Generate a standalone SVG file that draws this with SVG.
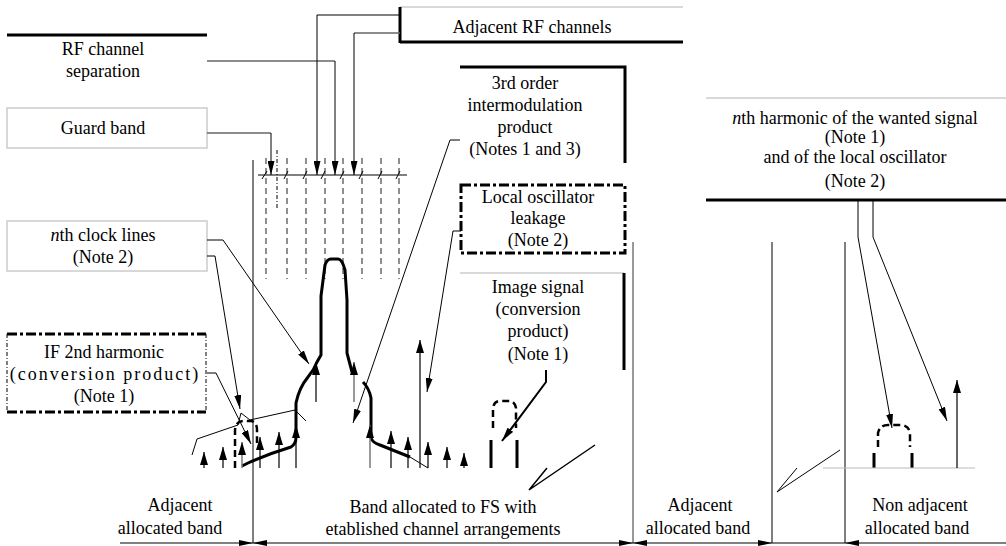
<svg xmlns="http://www.w3.org/2000/svg" width="1006" height="546" viewBox="0 0 1006 546">
<defs>
<marker id="ah" markerWidth="14" markerHeight="7" refX="14" refY="3.5" orient="auto" markerUnits="userSpaceOnUse"><path d="M0,0 L14,3.5 L0,7 z" fill="#000"/></marker>
<marker id="up" markerWidth="13" markerHeight="8" refX="13" refY="4" orient="auto" markerUnits="userSpaceOnUse"><path d="M0,0 L13,4 L0,8 z" fill="#000"/></marker>
</defs>
<style>
text{font-family:"Liberation Serif","Times New Roman",serif;font-size:18px;fill:#000;text-anchor:middle}
.c{fill:none;stroke:#000;stroke-width:1}
.g{fill:none;stroke:#666;stroke-width:1.3}
.lb{fill:none;stroke:#ccc;stroke-width:1.5}
.tk{fill:none;stroke:#000;stroke-width:3}
.dd{fill:none;stroke:#000;stroke-width:3;stroke-dasharray:10 3 3 3}
.dt{fill:none;stroke:#000;stroke-width:1;stroke-dasharray:4 2 1 2}
.dash{fill:none;stroke:#555;stroke-width:1.3;stroke-dasharray:6 4}
.sp{fill:none;stroke:#000;stroke-width:3;stroke-linejoin:round}
.hump{fill:none;stroke:#000;stroke-width:2.5;stroke-dasharray:7 4}
.sa{fill:none;stroke:#000;stroke-width:1.2;marker-end:url(#up)}
.sag{fill:none;stroke:#777;stroke-width:1.5;marker-end:url(#up)}
.ca{fill:none;stroke:#000;stroke-width:1;marker-end:url(#ah)}
</style>

<g id="rf-separation">
<line class="tk" x1="7" y1="35" x2="207" y2="35"/>
<text x="103" y="55">RF channel</text>
<text x="103" y="77">separation</text>
</g>

<g id="guard-band">
<rect class="lb" x="7" y="108" width="200" height="40"/>
<text x="103" y="134">Guard band</text>
</g>

<g id="adjacent-rf">
<line class="lb" x1="400" y1="7" x2="683" y2="7"/>
<line class="tk" x1="400" y1="7" x2="400" y2="43"/>
<line class="tk" x1="400" y1="42" x2="683" y2="42"/>
<text x="532" y="33">Adjacent RF channels</text>
</g>

<g id="third-order">
<polyline class="tk" points="460,67 625,67 625,163"/>
<text x="525" y="89">3rd  order</text>
<text x="525" y="111">intermodulation</text>
<text x="525" y="133">product</text>
<text x="525" y="155">(Notes 1 and 3)</text>
</g>

<g id="lo-leakage">
<rect class="dd" x="461" y="185" width="164" height="68"/>
<text x="538" y="203">Local oscillator</text>
<text x="538" y="224">leakage</text>
<text x="538" y="246">(Note 2)</text>
</g>

<g id="image-signal">
<line class="lb" x1="460" y1="273" x2="624" y2="273"/>
<line class="tk" x1="624" y1="273" x2="624" y2="370"/>
<text x="538" y="293">Image signal</text>
<text x="538" y="315">(conversion</text>
<text x="538" y="337">product)</text>
<text x="538" y="360">(Note 1)</text>
</g>

<g id="nth-harmonic">
<line class="lb" x1="706" y1="98" x2="1006" y2="98"/>
<line class="tk" x1="706" y1="200" x2="1006" y2="200"/>
<text x="855" y="124"><tspan font-style="italic">n</tspan>th  harmonic of the wanted signal</text>
<text x="855" y="143">(Note 1)</text>
<text x="855" y="163">and of the local oscillator</text>
<text x="855" y="187">(Note 2)</text>
</g>

<g id="nth-clock">
<rect class="lb" x="7" y="221" width="200" height="50"/>
<text x="103" y="241"><tspan font-style="italic">n</tspan>th clock lines</text>
<text x="103" y="263">(Note 2)</text>
</g>

<g id="if-harmonic">
<line class="dd" x1="7" y1="334" x2="206" y2="334"/>
<line class="dd" x1="7" y1="412" x2="206" y2="412"/>
<line class="dt" x1="206" y1="334" x2="206" y2="412"/>
<line class="dt" x1="7" y1="334" x2="7" y2="412"/>
<text x="104" y="358">IF  2nd harmonic</text>
<text x="105" y="380" letter-spacing="2">(conversion product)</text>
<text x="104" y="402">(Note 1)</text>
</g>

<g id="bands">
<line class="c" x1="253" y1="160" x2="253" y2="543"/>
<line stroke="#777" stroke-width="1.5" x1="633" y1="242" x2="633" y2="543"/>
<line class="c" x1="772" y1="242" x2="772" y2="543"/>
<line class="c" x1="845" y1="242" x2="845" y2="543"/>
<line class="c" x1="120" y1="543" x2="1006" y2="543"/>
<polygon points="253,543 239,540 239,546"/>
<polygon points="253,543 267,540 267,546"/>
<polygon points="633,543 619,540 619,546"/>
<polygon points="633,543 647,540 647,546"/>
<polygon points="772,543 758,540 758,546"/>
<polygon points="845,543 859,540 859,546"/>
<text x="180" y="511">Adjacent</text>
<text x="170" y="534">allocated band</text>
<text x="443" y="513">Band allocated to FS with</text>
<text x="443" y="535">etablished channel arrangements</text>
<text x="700" y="511">Adjacent</text>
<text x="698" y="534">allocated band</text>
<text x="920" y="511">Non adjacent</text>
<text x="917" y="534">allocated band</text>
</g>

<g id="channel-grid">
<line class="c" x1="258" y1="175" x2="407" y2="175"/>
<g class="dash">
<line x1="266" y1="158" x2="266" y2="279"/>
<line x1="287" y1="158" x2="287" y2="279"/>
<line x1="306" y1="158" x2="306" y2="279"/>
<line x1="325" y1="158" x2="325" y2="279"/>
<line x1="343" y1="158" x2="343" y2="279"/>
<line x1="362" y1="158" x2="362" y2="279"/>
<line x1="381" y1="158" x2="381" y2="279"/>
<line x1="399" y1="158" x2="399" y2="279"/>
</g>
<line class="dt" x1="277" y1="150" x2="277" y2="210"/>
<g class="c">
<line x1="262" y1="179" x2="267" y2="171"/>
<line x1="284" y1="179" x2="288" y2="171"/>
<line x1="303" y1="179" x2="307" y2="171"/>
<line x1="321" y1="179" x2="325" y2="171"/>
<line x1="340" y1="179" x2="344" y2="171"/>
<line x1="359" y1="179" x2="363" y2="171"/>
<line x1="378" y1="179" x2="382" y2="171"/>
<line x1="396" y1="179" x2="400" y2="171"/>
</g>
</g>

<g id="spectrum">
<path class="sp" d="M242,466 L248,463 Q268,454 291,447 Q296,444 296,437 L296,403 Q299,388 308,377 Q314,370 317,362 L321,355 L321,296 L325,265 Q327,259 331,259 L338,259 Q342,259 345,270 L347,300 L347,353 L352,372 M363,382 Q369,388 371,398 L371,438 Q373,443 380,445 L410,457"/>
<line class="c" x1="410" y1="457" x2="428" y2="468"/>
<path class="hump" d="M235,468 L235,430 Q236,421 244,421 L251,421 Q257,422 257,430 L257,443"/>
<path class="sp" d="M491,468 L491,440 M517,440 L517,468" stroke-width="2.5"/>
<path class="hump" d="M493,428 L493,408 Q494,401 500,401 L510,401 Q515,402 516,408 L516,428"/>
<path class="sp" d="M874,468 L874,453 M912,453 L912,468" stroke-width="2.5"/>
<path class="hump" d="M878,447 L878,433 Q880,425 888,425 L902,425 Q909,426 910,433 L910,447"/>
<line stroke="#bbb" stroke-width="1.2" x1="823" y1="468" x2="975" y2="468"/>
<line class="sa" x1="204" y1="468" x2="204" y2="452"/>
<line class="sa" x1="223" y1="468" x2="223" y2="447"/>
<line class="sag" x1="242" y1="468" x2="242" y2="442"/>
<line class="sa" x1="260" y1="468" x2="260" y2="437" stroke-width="2"/>
<line class="sa" x1="279" y1="468" x2="279" y2="432"/>
<line class="sa" x1="296" y1="468" x2="296" y2="425"/>
<line class="sa" x1="316" y1="402" x2="316" y2="362"/>
<line class="sag" x1="354" y1="402" x2="354" y2="362"/>
<line class="sag" x1="370" y1="468" x2="370" y2="425"/>
<line class="sa" x1="391" y1="468" x2="391" y2="431"/>
<line class="sa" x1="408" y1="468" x2="408" y2="437"/>
<line class="sa" x1="420" y1="468" x2="420" y2="340"/>
<line class="sa" x1="428" y1="468" x2="428" y2="442"/>
<line class="sa" x1="447" y1="468" x2="447" y2="447"/>
<line class="sa" x1="464" y1="468" x2="464" y2="453"/>
<line class="sa" x1="957" y1="468" x2="957" y2="380"/>
<polyline class="c" points="192,455 197,439 238,425 241,413 250,420 295,410 306,421"/>
<path fill="none" stroke="#000" stroke-width="1.5" d="M547,468 L529,490 L595,445"/>
<path class="c" d="M797,468 L777,492 L840,450"/>
</g>

<g id="connectors">
<line class="g" x1="207" y1="133" x2="271" y2="133"/>
<line class="ca" x1="271" y1="133" x2="271" y2="175"/>
<line class="g" x1="207" y1="61" x2="335" y2="61"/>
<line class="ca" x1="335" y1="61" x2="335" y2="175"/>
<polyline class="ca" points="400,15 317,15 317,175"/>
<line class="g" x1="400" y1="33" x2="354" y2="33"/>
<line class="ca" x1="354" y1="33" x2="354" y2="175"/>
<polyline class="ca" points="207,240 223,240 309,364"/>
<polyline class="ca" points="207,256 215,256 240,409"/>
<polyline class="ca" points="207,373 216,373 251,444"/>
<polyline class="ca" points="460,140 450,140 353,423"/>
<polyline class="ca" points="461,231 453,231 427,392"/>
<polyline fill="none" stroke="#000" stroke-width="2" marker-end="url(#ah)" points="546,370 546,382 502,441"/>
<polyline class="ca" stroke="#666" points="858,200 858,237 892,428"/>
<polyline class="ca" stroke="#666" points="873,200 873,237 947,421"/>
</g>
</svg>
